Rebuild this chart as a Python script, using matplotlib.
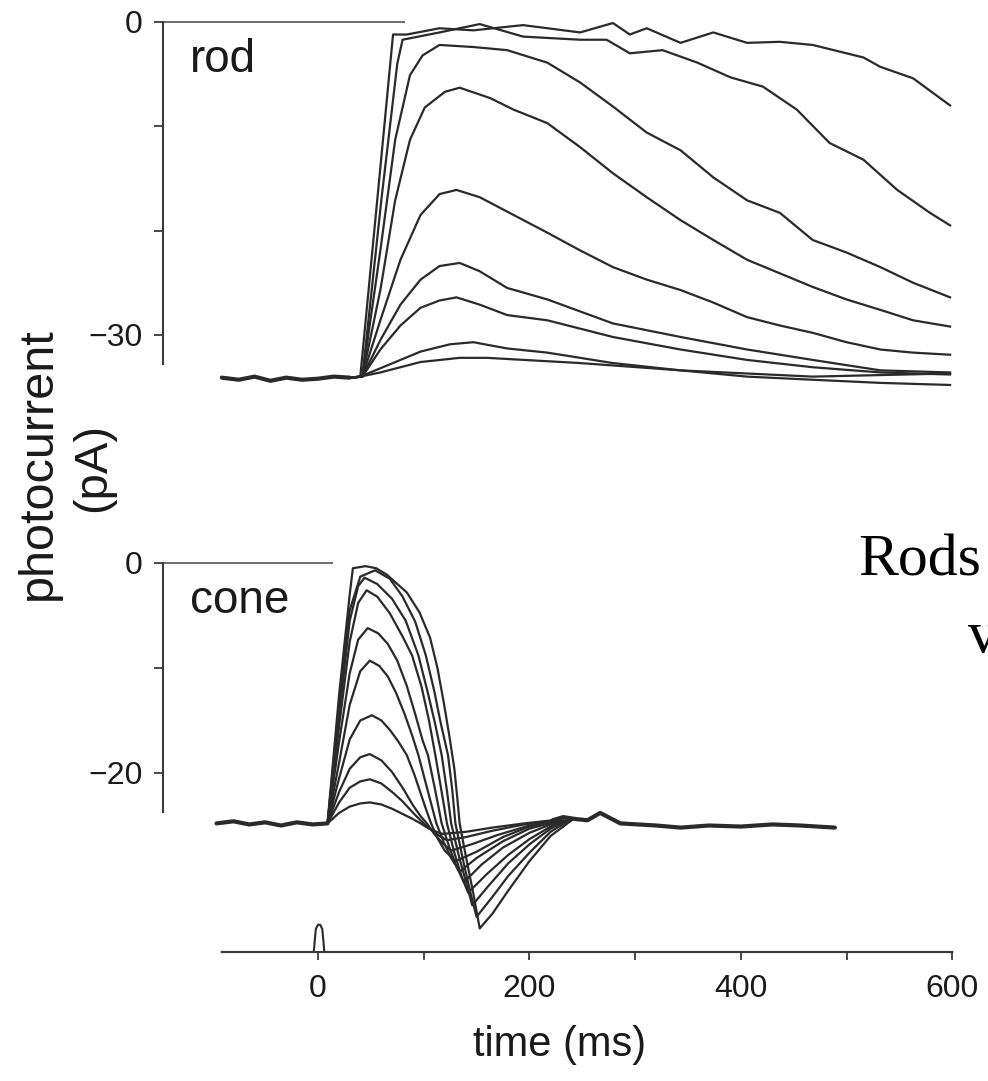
import matplotlib
matplotlib.use('Agg')
import matplotlib.pyplot as plt

# ---------------- data ----------------
# time in ms, photocurrent in pA
rod_base_t = [-91, -75, -60, -45, -30, -15, 0, 15, 30]
rod_base_v = [-34.1, -34.3, -34.0, -34.4, -34.1, -34.3, -34.2, -34.0, -34.1]

rod1_t = [40, 58, 71, 84, 115, 147, 194, 248, 279, 295, 311, 343, 374, 406, 437, 468, 516, 532, 563, 598]
rod1_v = [-34.0, -15.0, -1.2, -1.2, -0.6, -0.8, -0.3, -1.0, -0.1, -1.2, -0.6, -2.0, -1.0, -2.0, -1.9, -2.2, -3.4, -4.3, -5.4, -8.0]
rod2_t = [42, 60, 75, 80, 115, 153, 194, 248, 273, 295, 326, 359, 390, 421, 453, 484, 516, 548, 579, 598]
rod2_v = [-34.0, -17.0, -4.0, -1.7, -1.0, -0.2, -1.4, -1.7, -1.7, -3.0, -2.7, -3.9, -5.3, -6.2, -8.4, -11.6, -13.2, -16.1, -18.3, -19.5]
rod3_t = [42, 59, 73, 87, 99, 115, 147, 179, 217, 248, 279, 311, 343, 374, 406, 437, 468, 500, 532, 563, 598]
rod3_v = [-34.0, -21.9, -11.3, -5.1, -3.2, -2.2, -2.4, -2.7, -3.9, -5.8, -8.1, -10.6, -12.3, -14.9, -17.1, -18.3, -20.9, -22.1, -23.5, -25.0, -26.4]
rod4_t = [42, 59, 73, 87, 101, 120, 134, 163, 185, 217, 248, 279, 311, 343, 374, 406, 437, 468, 500, 532, 563, 598]
rod4_v = [-34.0, -25.7, -17.1, -11.3, -8.2, -6.7, -6.3, -7.3, -8.4, -9.7, -12.0, -14.5, -16.8, -19.0, -20.9, -22.8, -24.1, -25.4, -26.6, -27.6, -28.6, -29.2]
rod5_t = [42, 59, 78, 97, 115, 131, 153, 185, 217, 248, 279, 311, 343, 374, 406, 437, 468, 500, 532, 563, 598]
rod5_v = [-34.0, -28.6, -22.8, -18.5, -16.5, -16.1, -16.8, -18.5, -20.2, -21.9, -23.5, -24.7, -25.7, -26.9, -28.3, -29.1, -29.8, -30.7, -31.4, -31.7, -31.9]
rod6_t = [42, 59, 78, 97, 115, 134, 153, 179, 217, 279, 343, 406, 468, 532, 598]
rod6_v = [-34.0, -30.5, -27.1, -24.7, -23.4, -23.1, -23.9, -25.5, -26.6, -28.9, -30.2, -31.4, -32.4, -33.4, -33.6]
rod7_t = [42, 59, 78, 97, 115, 131, 153, 179, 217, 279, 343, 406, 468, 532, 598]
rod7_v = [-34.0, -31.4, -29.1, -27.4, -26.7, -26.4, -27.1, -28.1, -28.6, -30.2, -31.4, -32.4, -33.1, -33.6, -33.8]
rod8_t = [40, 59, 97, 125, 147, 179, 217, 279, 343, 406, 468, 532, 598]
rod8_v = [-34.0, -33.2, -31.6, -30.9, -30.7, -31.3, -31.7, -32.7, -33.4, -34.0, -34.3, -34.6, -34.8]
rod9_t = [40, 59, 97, 134, 160, 248, 343, 468, 598]
rod9_v = [-34.0, -33.6, -32.6, -32.2, -32.2, -32.7, -33.4, -34.0, -33.7]

cone_base_t = [-96, -80, -65, -50, -35, -20, -5, 9]
cone_base_v = [-24.8, -24.6, -24.9, -24.7, -25.0, -24.7, -24.9, -24.8]
cone_tail_t = [222, 232, 245, 255, 267, 286, 320, 343, 370, 400, 430, 456, 489]
cone_tail_v = [-24.5, -24.2, -24.4, -24.5, -23.8, -24.8, -25.0, -25.2, -25.0, -25.1, -24.9, -25.0, -25.2]

cone1_t = [9, 20, 30, 33, 45, 55, 65, 84, 96, 106, 113, 119, 124, 129, 132, 134, 140, 147, 153, 165, 180, 200, 220, 240]
cone1_v = [-24.8, -12.5, -3.0, -0.5, -0.3, -0.5, -1.1, -2.8, -4.7, -7.1, -10.0, -13.3, -16.3, -19.6, -22.6, -24.8, -28.0, -31.5, -34.8, -33.4, -31.2, -28.4, -26.0, -24.5]
cone2_t = [9, 20, 30, 40, 54, 68, 80, 92, 102, 110, 116, 123, 127, 130, 137, 144, 150, 165, 180, 200, 220, 238]
cone2_v = [-24.8, -13.5, -4.5, -1.3, -0.7, -1.5, -3.2, -5.6, -8.8, -12.2, -15.2, -18.3, -21.6, -24.8, -28.2, -31.3, -33.7, -31.8, -29.8, -27.6, -25.6, -24.5]
cone3_t = [9, 20, 30, 38, 44, 56, 70, 83, 95, 104, 111, 117, 122, 126, 133, 140, 146, 160, 180, 200, 220, 236]
cone3_v = [-24.8, -14.5, -5.5, -2.2, -1.4, -2.0, -3.4, -5.5, -8.8, -12.4, -15.4, -18.3, -21.7, -24.8, -27.8, -30.4, -32.6, -30.9, -28.6, -26.8, -25.3, -24.5]
cone4_t = [9, 20, 30, 38, 46, 56, 68, 80, 89, 98, 105, 111, 117, 122, 129, 136, 142, 160, 180, 200, 220, 234]
cone4_v = [-24.8, -15.5, -7.5, -3.8, -2.6, -3.2, -4.8, -7.0, -8.8, -11.8, -15.0, -18.3, -21.8, -24.8, -27.6, -29.9, -31.4, -29.6, -27.8, -26.3, -25.1, -24.5]
cone5_t = [9, 20, 30, 38, 47, 57, 66, 75, 84, 92, 99, 104, 111, 117, 124, 131, 138, 155, 175, 200, 220, 232]
cone5_v = [-24.8, -17.0, -10.5, -7.3, -6.2, -6.7, -7.7, -9.3, -11.7, -14.4, -16.9, -18.3, -21.7, -24.8, -27.0, -28.9, -30.4, -28.7, -27.1, -25.7, -24.9, -24.5]
cone6_t = [9, 20, 30, 40, 49, 58, 66, 74, 82, 89, 95, 101, 107, 112, 119, 126, 134, 150, 175, 200, 230]
cone6_v = [-24.8, -19.0, -13.5, -10.3, -9.3, -9.8, -10.8, -12.4, -14.4, -16.4, -18.3, -20.6, -22.9, -24.8, -26.6, -28.1, -29.4, -28.1, -26.5, -25.3, -24.5]
cone7_t = [9, 20, 30, 40, 51, 60, 68, 76, 84, 91, 97, 102, 107, 113, 120, 130, 150, 175, 200, 228]
cone7_v = [-24.8, -20.5, -16.8, -15.0, -14.5, -15.0, -15.9, -17.0, -18.3, -20.1, -21.9, -23.4, -24.8, -26.2, -27.4, -28.4, -27.5, -26.1, -25.1, -24.5]
cone8_t = [9, 20, 30, 40, 49, 60, 70, 80, 90, 97, 103, 110, 118, 126, 145, 170, 200, 226]
cone8_v = [-24.8, -21.8, -19.6, -18.5, -18.2, -18.8, -19.9, -21.4, -23.1, -24.1, -24.8, -25.8, -26.7, -27.4, -26.8, -25.9, -25.0, -24.5]
cone9_t = [9, 20, 30, 40, 49, 60, 70, 80, 90, 100, 108, 115, 122, 140, 165, 195, 224]
cone9_v = [-24.8, -22.8, -21.4, -20.8, -20.6, -21.0, -21.8, -22.7, -23.8, -24.8, -25.5, -26.0, -26.4, -26.1, -25.5, -24.9, -24.5]
cone10_t = [9, 20, 30, 40, 49, 60, 70, 80, 90, 97, 105, 112, 118, 140, 165, 195, 222]
cone10_v = [-24.8, -23.8, -23.2, -22.9, -22.8, -23.0, -23.4, -23.9, -24.4, -24.8, -25.3, -25.6, -25.8, -25.6, -25.2, -24.8, -24.5]

stim_t = [-91, -4, -3, -2, 0, 2, 4, 5, 6, 600]
stim_v = [0, 0, 0.45, 0.85, 1, 1, 0.85, 0.45, 0, 0]

x_ticks = [0, 100, 200, 300, 400, 500, 600]
x_ticklabels = ['0', '', '200', '', '400', '', '600']
rod_yticks = [0, -10, -20, -30]
rod_yticklabels = ['0', '', '', '\u221230']
cone_yticks = [0, -10, -20]
cone_yticklabels = ['0', '', '\u221220']

rod_traces = [(rod1_t, rod1_v), (rod2_t, rod2_v), (rod3_t, rod3_v), (rod4_t, rod4_v),
              (rod5_t, rod5_v), (rod6_t, rod6_v), (rod7_t, rod7_v), (rod8_t, rod8_v),
              (rod9_t, rod9_v)]
cone_traces = [(cone1_t, cone1_v), (cone2_t, cone2_v), (cone3_t, cone3_v), (cone4_t, cone4_v),
               (cone5_t, cone5_v), (cone6_t, cone6_v), (cone7_t, cone7_v), (cone8_t, cone8_v),
               (cone9_t, cone9_v), (cone10_t, cone10_v)]

# ---------------- figure ----------------
plt.rcParams['font.family'] = ['Liberation Sans', 'DejaVu Sans']
W, H = 988, 1081
fig = plt.figure(figsize=(W / 100, H / 100), dpi=100)

def px_axes(x0, y0, x1, y1):
    return fig.add_axes([x0 / W, 1 - y1 / H, (x1 - x0) / W, (y1 - y0) / H])

XLIM = (-147, 620)
xpx0, xpx1 = 318 - 147 * 1.057, 318 + 620 * 1.057
LC = '#2a2a2a'
AC = '#3a3a3a'
LW = 1.6

def style_panel(ax, ylim, yticks, ylabels, lo_bound, zero_end):
    ax.set_xlim(*XLIM)
    ax.set_ylim(*ylim)
    for s in ['top', 'right', 'bottom']:
        ax.spines[s].set_visible(False)
    ax.spines['left'].set_bounds(lo_bound, 0)
    ax.spines['left'].set_color(AC)
    ax.spines['left'].set_linewidth(1.5)
    ax.set_xticks([])
    ax.set_yticks(yticks)
    ax.set_yticklabels(ylabels)
    ax.tick_params(axis='y', direction='out', length=6.5, width=1.3, color=AC,
                   pad=8, labelsize=23, labelcolor='#1a1a1a')
    ax.hlines(0, XLIM[0], zero_end, color='#555555', lw=1.2)
    ax.patch.set_alpha(0)

# rod panel
ax_r = px_axes(xpx0, 22 - 0.7 * 10.43, xpx1, 22 + 35.5 * 10.43)
style_panel(ax_r, (-35.5, 0.7), rod_yticks, rod_yticklabels, -32.8, 82)
ax_r.plot(rod_base_t, rod_base_v, color=LC, lw=3.0, solid_capstyle='round')
for t, v in rod_traces:
    ax_r.plot(rod_base_t[-1:] + t, rod_base_v[-1:] + v, color=LC, lw=LW)

# cone panel
ax_c = px_axes(xpx0, 563 - 0.7 * 10.5, xpx1, 563 + 35.5 * 10.5)
style_panel(ax_c, (-35.5, 0.7), cone_yticks, cone_yticklabels, -23.7, 14)
ax_c.plot(cone_base_t, cone_base_v, color=LC, lw=3.0, solid_capstyle='round')
ax_c.plot(cone_tail_t, cone_tail_v, color=LC, lw=3.0, solid_capstyle='round')
for t, v in cone_traces:
    ax_c.plot(t, v, color=LC, lw=LW)

# stimulus / time axis
ax_s = px_axes(xpx0, 922, xpx1, 952)
ax_s.set_xlim(*XLIM)
ax_s.set_ylim(0, 1.1)
for s in ['top', 'right', 'left']:
    ax_s.spines[s].set_visible(False)
ax_s.spines['bottom'].set_bounds(-91, 600)
ax_s.spines['bottom'].set_color(AC)
ax_s.spines['bottom'].set_linewidth(1.5)
ax_s.set_yticks([])
ax_s.set_xticks(x_ticks)
ax_s.set_xticklabels(x_ticklabels)
ax_s.tick_params(axis='x', direction='out', length=6, width=1.3, color=AC,
                 pad=10, labelsize=23, labelcolor='#1a1a1a')
ax_s.plot(stim_t, stim_v, color=LC, lw=1.5, clip_on=False)
ax_s.patch.set_alpha(0)

# texts
fig.text(190 / W, 1 - 72 / H, 'rod', fontsize=33, va='baseline', ha='left', color='#1a1a1a')
fig.text(190 / W, 1 - 613 / H, 'cone', fontsize=33, va='baseline', ha='left', color='#1a1a1a')
fig.text(38 / W, 1 - 464 / H, 'photocurrent', fontsize=35, rotation=90,
         ha='center', va='center', color='#1a1a1a')
fig.text(93 / W, 1 - 468 / H, '(pA)', fontsize=34, rotation=90,
         ha='center', va='center', color='#1a1a1a')
fig.text(560 / W, 1 - 1045 / H, 'time (ms)', fontsize=30, ha='center', va='center', color='#1a1a1a')
fig.text(858 / W, 1 - 575 / H, 'Rods', fontsize=43, ha='left', va='baseline',
         family=['Liberation Serif', 'DejaVu Serif'], color='black')
fig.text(968 / W, 1 - 652 / H, 'v', fontsize=43, ha='left', va='baseline',
         family=['Liberation Serif', 'DejaVu Serif'], color='black')

fig.savefig('out.png', dpi=100, facecolor='white')
